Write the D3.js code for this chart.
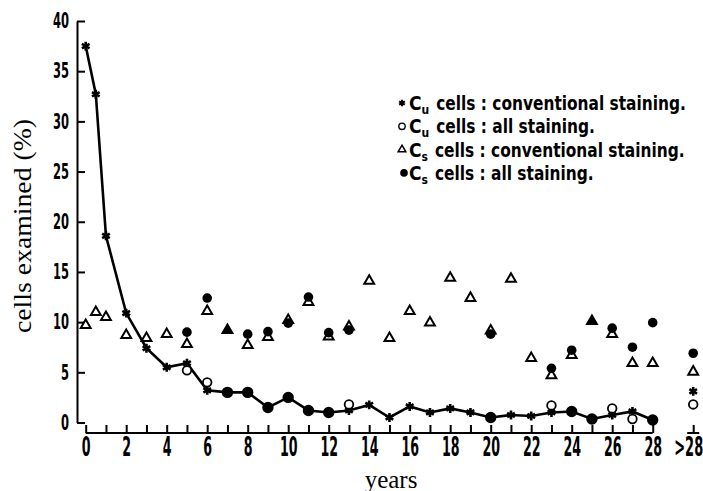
<!DOCTYPE html>
<html>
<head>
<meta charset="utf-8">
<script src="https://cdn.jsdelivr.net/npm/d3@7"></script>
<style>
  body { margin: 0; background: #fff; }
  svg { display: block; }
</style>
</head>
<body>
<div id="chart"></div>
<script>
// years; 30 stands for the ">28" column
var years = [0, 0.5, 1, 2, 3, 4, 5, 6, 7, 8, 9, 10, 11, 12, 13, 14, 15, 16, 17, 18, 19, 20, 21, 22, 23, 24, 25, 26, 27, 28, 30];
// Cu cells : conventional staining
var cuConv = [37.5, 32.7, 18.6, 10.9, 7.4, 5.5, 5.9, 3.2, 3.0, 3.0, 1.5, 2.5, 1.2, 1.0, 1.2, 1.75, 0.5, 1.6, 1.0, 1.4, 1.0, 0.5, 0.75, 0.65, 1.0, 1.1, 0.35, 0.75, 1.1, 0.25, 3.1];
// Cu cells : all staining
var cuAll = [null, null, null, null, null, null, 5.2, 4.0, 3.0, 3.0, 1.5, 2.5, 1.2, 1.0, 1.8, null, null, null, null, null, null, 0.5, null, null, 1.7, 1.1, 0.35, 1.4, 0.35, 0.25, 1.8];
// Cs cells : conventional staining
var csConv = [9.7, 11.0, 10.5, 8.7, 8.4, 8.8, 7.8, 11.1, 9.2, 7.7, 8.5, 10.2, 12.0, 8.55, 9.55, 14.1, 8.4, 11.1, 9.95, 14.4, 12.4, 9.15, 14.3, 6.4, 4.7, 6.7, 10.1, 8.8, 5.9, 5.9, 5.05];
// Cs cells : all staining
var csAll = [null, null, null, null, null, null, 9.0, 12.4, 9.2, 8.8, 9.05, 9.9, 12.5, 8.95, 9.2, null, null, null, null, null, null, 8.8, null, null, 5.4, 7.2, 10.1, 9.4, 7.5, 9.95, 6.9];

var yTicks = [0, 5, 10, 15, 20, 25, 30, 35, 40];
var xTicks = [0, 1, 2, 3, 4, 5, 6, 7, 8, 9, 10, 11, 12, 13, 14, 15, 16, 17, 18, 19, 20, 21, 22, 23, 24, 25, 26, 27, 28, 30];
var legendItems = [
  {sym: 'star', sub: 'u', text: 'cells : conventional staining.'},
  {sym: 'open', sub: 'u', text: 'cells : all staining.'},
  {sym: 'tri', sub: 's', text: 'cells : conventional staining.'},
  {sym: 'dot', sub: 's', text: 'cells : all staining.'}
];

var W = 703, H = 491;
var narrow = '"Liberation Sans Narrow", "DejaVu Sans Condensed", sans-serif';
var serif = '"Liberation Serif", "DejaVu Serif", serif';

var svg = d3.select('#chart').append('svg').attr('width', W).attr('height', H);

var x = d3.scaleLinear().domain([0, 28]).range([85.7, 652.7]);
var y = d3.scaleLinear().domain([0, 40]).range([422.5, 21]);

function xLabel(d) { return d === 30 ? '>28' : (d % 2 ? '' : String(d)); }

// y axis
var yAxis = svg.append('g')
  .attr('transform', 'translate(77,0)')
  .call(d3.axisLeft(y).tickValues(yTicks).tickSizeInner(-8).tickSizeOuter(0).tickPadding(8));
yAxis.selectAll('path, line').attr('stroke', '#000').attr('stroke-width', 2);
yAxis.selectAll('text')
  .attr('font-family', narrow).attr('font-weight', 'bold').attr('font-size', 21).attr('fill', '#000')
  .attr('textLength', function(d) { return String(d).length * 8; })
  .attr('lengthAdjust', 'spacingAndGlyphs');

// x axis
var xAxis = svg.append('g')
  .attr('transform', 'translate(0,433)')
  .call(d3.axisBottom(x).tickValues(xTicks).tickFormat(xLabel)
    .tickSizeInner(-8).tickSizeOuter(0).tickPadding(5));
xAxis.select('.domain').remove();
xAxis.append('line').attr('x1', x(0)).attr('x2', x(28));
xAxis.append('line').attr('x1', x(30) - 6).attr('x2', x(30) + 6);
xAxis.selectAll('line').attr('stroke', '#000').attr('stroke-width', 2);
xAxis.selectAll('text')
  .attr('font-family', narrow).attr('font-weight', 'bold').attr('font-size', 26).attr('fill', '#000')
  .attr('x', function(d) { return d === 30 ? -5 : 0; })
  .attr('textLength', function(d) { var s = xLabel(d); return s.length ? (d === 30 ? 29 : s.length * 8.8) : null; })
  .attr('lengthAdjust', 'spacingAndGlyphs');

// axis titles
svg.append('text')
  .attr('transform', 'translate(31,226) rotate(-90)')
  .attr('text-anchor', 'middle')
  .attr('font-family', serif).attr('font-size', 26)
  .attr('textLength', 214).attr('lengthAdjust', 'spacingAndGlyphs')
  .text('cells examined (%)');
svg.append('text')
  .attr('x', 391).attr('y', 488)
  .attr('text-anchor', 'middle')
  .attr('font-family', serif).attr('font-size', 25)
  .text('years');

var pts = years.map(function(yr, i) {
  return {yr: yr, cuConv: cuConv[i], cuAll: cuAll[i], csConv: csConv[i], csAll: csAll[i]};
});

var star = d3.symbol().type(d3.symbolAsterisk).size(55);
var tri = d3.symbol().type(d3.symbolTriangle).size(42);

// Cu conventional line
var line = d3.line().x(function(d) { return x(d.yr); }).y(function(d) { return y(d.cuConv); });
svg.append('path')
  .datum(pts.filter(function(d) { return d.yr <= 28; }))
  .attr('d', line).attr('fill', 'none').attr('stroke', '#000').attr('stroke-width', 2.6);

// Cs conventional: triangles (filled where all staining gives the same value)
svg.append('g').selectAll('path')
  .data(pts.filter(function(d) { return d.csConv != null; }))
  .join('path')
  .attr('transform', function(d) { return 'translate(' + x(d.yr) + ',' + y(d.csConv) + ')'; })
  .attr('d', tri)
  .attr('fill', function(d) { return d.csAll === d.csConv ? '#000' : '#fff'; })
  .attr('stroke', '#000').attr('stroke-width', 2);

// Cs all staining: filled circles
svg.append('g').selectAll('circle')
  .data(pts.filter(function(d) { return d.csAll != null && d.csAll !== d.csConv; }))
  .join('circle')
  .attr('cx', function(d) { return x(d.yr); })
  .attr('cy', function(d) { return y(d.csAll); })
  .attr('r', 4.8).attr('fill', '#000');

// Cu conventional: asterisks
svg.append('g').selectAll('path')
  .data(pts.filter(function(d) { return d.cuAll !== d.cuConv; }))
  .join('path')
  .attr('transform', function(d) { return 'translate(' + x(d.yr) + ',' + y(d.cuConv) + ')'; })
  .attr('d', star)
  .attr('fill', 'none').attr('stroke', '#000').attr('stroke-width', 2.6);

// Cu all staining: open circles, filled where they coincide with conventional
svg.append('g').selectAll('circle')
  .data(pts.filter(function(d) { return d.cuAll != null; }))
  .join('circle')
  .attr('cx', function(d) { return x(d.yr); })
  .attr('cy', function(d) { return y(d.cuAll); })
  .attr('r', function(d) { return d.cuAll === d.cuConv ? 4.8 : 4.3; })
  .attr('fill', function(d) { return d.cuAll === d.cuConv ? '#000' : '#fff'; })
  .attr('stroke', '#000').attr('stroke-width', 1.8);

// legend
var legend = svg.append('g').attr('transform', 'translate(402,103)');
var rows = legend.selectAll('g').data(legendItems).join('g')
  .attr('transform', function(d, i) { return 'translate(0,' + (i * 23.3) + ')'; });
rows.each(function(d) {
  var g = d3.select(this);
  if (d.sym === 'star') {
    g.append('path').attr('d', d3.symbol().type(d3.symbolAsterisk).size(30)).attr('stroke', '#000').attr('stroke-width', 2.2).attr('fill', 'none');
  } else if (d.sym === 'open') {
    g.append('circle').attr('r', 3.2).attr('fill', '#fff').attr('stroke', '#000').attr('stroke-width', 1.4);
  } else if (d.sym === 'tri') {
    g.append('path').attr('d', d3.symbol().type(d3.symbolTriangle).size(26)).attr('fill', '#fff').attr('stroke', '#000').attr('stroke-width', 1.5);
  } else {
    g.append('circle').attr('cx', 2).attr('r', 3.8).attr('fill', '#000');
  }
  var t = g.append('text').attr('x', 7).attr('y', 7)
    .attr('font-family', narrow).attr('font-weight', 'bold').attr('font-size', 19).attr('fill', '#000');
  t.append('tspan').text('C');
  t.append('tspan').attr('font-size', 12).attr('dy', 4).text(d.sub);
  var main = t.append('tspan').attr('dy', -4).attr('dx', 7).text(d.text);
  var len = main.node().getComputedTextLength();
  main.attr('textLength', len * 0.9).attr('lengthAdjust', 'spacingAndGlyphs');
});
</script>
</body>
</html>
